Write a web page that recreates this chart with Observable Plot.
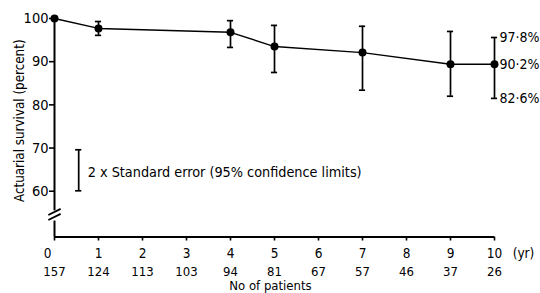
<!DOCTYPE html>
<html><head><meta charset="utf-8">
<script src="https://cdn.jsdelivr.net/npm/d3@7"></script>
<script src="https://cdn.jsdelivr.net/npm/@observablehq/plot@0.6"></script>
<style>body{margin:0;background:#fff}</style>
</head><body><div id="chart"></div>
<script>
const years = [0, 1, 4, 5, 7, 9, 10];
const survival = [100, 97.7, 96.8, 93.5, 92.1, 89.4, 89.4];
const upper = [null, 99.3, 99.5, 98.4, 98.2, 97.0, 95.6];
const lower = [null, 96.1, 93.3, 87.5, 83.4, 82.0, 81.5];
const tickYears = [0, 1, 2, 3, 4, 5, 6, 7, 8, 9, 10];
const patients = [157, 124, 113, 103, 94, 81, 67, 57, 46, 37, 26];
const yTicks = [60, 70, 80, 90, 100];
const endLabels = ["97·8%", "90·2%", "82·6%"];
const legendBarX = [0.55];
const legendBarRange = [60.1, 69.6];
const legendText = "2 x Standard error (95% confidence limits)";
const yLabel = "Actuarial survival (percent)";
const xUnit = "(yr)";
const xTitle = "No of patients";
const yMin = 49.4, breakLo = 53.1, breakHi = 55.45;
const capHalf = 0.07;

const pts = years.map((y, i) => ({year: y, s: survival[i], hi: upper[i], lo: lower[i]}));
const bars = pts.filter(d => d.hi != null);
const last = pts[pts.length - 1];
const endRows = [last.hi, last.s, last.lo].map((v, i) => ({year: last.year, v, t: endLabels[i]}));
const slashes = [
  {x1: -0.14, y1: 54.5, x2: 0.14, y2: 55.9},
  {x1: -0.14, y1: 53.35, x2: 0.14, y2: 54.75}
];
const bw = 1.7;

const chart = Plot.plot({
  width: 540, height: 293,
  marginTop: 18, marginBottom: 56.5, marginLeft: 54, marginRight: 46,
  style: {fontFamily: "'DejaVu Sans Condensed','DejaVu Sans',sans-serif", fontSize: "13px", color: "black", background: "white"},
  x: {domain: [0, 10]},
  y: {domain: [yMin, 100]},
  marks: [
    Plot.ruleX([0], {y1: breakHi, y2: 100, strokeWidth: 2}),
    Plot.ruleX([0], {y1: yMin, y2: breakLo, strokeWidth: 2}),
    Plot.link(slashes, {x1: "x1", y1: "y1", x2: "x2", y2: "y2", strokeWidth: 1.8}),
    Plot.ruleY([yMin], {x1: 0, x2: 10, strokeWidth: 2}),
    Plot.axisY({ticks: yTicks, tickSize: 5, tickPadding: 1, label: null, fontSize: 14.5, strokeWidth: 1.6}),
    Plot.axisX({ticks: tickYears, tickSize: 4, tickFormat: () => "", label: null, strokeWidth: 1.6}),
    Plot.text(tickYears.filter(d => d !== 0), {x: d => d, y: yMin, dy: 17, text: d => String(d), fontSize: 13.5}),
    Plot.text(tickYears.filter(d => d === 0), {x: d => d, y: yMin, dy: 17, dx: -7, text: d => String(d), fontSize: 13.5}),
    Plot.text(patients, {x: (d, i) => tickYears[i], y: yMin, dy: 35, text: d => String(d), fontSize: 13}),
    Plot.text([xUnit], {x: 10, y: yMin, dy: 17, dx: 29, text: d => d, fontSize: 13.5}),
    Plot.text([xTitle], {x: 5, y: yMin, dy: 49, dx: -4, text: d => d, fontSize: 13}),
    Plot.text([yLabel], {frameAnchor: "left", textAnchor: "middle", rotate: -90, dx: -35, dy: -7, text: d => d, fontSize: 13.3}),
    Plot.line(pts, {x: "year", y: "s", strokeWidth: 1.4}),
    Plot.ruleX(bars, {x: "year", y1: "lo", y2: "hi", strokeWidth: bw}),
    Plot.ruleY(bars, {y: "hi", x1: d => d.year - capHalf, x2: d => d.year + capHalf, strokeWidth: bw}),
    Plot.ruleY(bars, {y: "lo", x1: d => d.year - capHalf, x2: d => d.year + capHalf, strokeWidth: bw}),
    Plot.dot(pts, {x: "year", y: "s", r: 4, fill: "black"}),
    Plot.text(endRows, {x: "year", y: "v", text: "t", dx: 5, textAnchor: "start", fontSize: 14}),
    Plot.ruleX(legendBarX, {y1: legendBarRange[0], y2: legendBarRange[1], strokeWidth: bw}),
    Plot.ruleY(legendBarRange, {y: d => d, x1: legendBarX[0] - capHalf, x2: legendBarX[0] + capHalf, strokeWidth: bw}),
    Plot.text([legendText], {x: legendBarX[0], y: (legendBarRange[0] + legendBarRange[1]) / 2, dx: 9, dy: 2, textAnchor: "start", text: d => d, fontSize: 14.3})
  ]
});
document.getElementById("chart").appendChild(chart);
</script>
</body></html>
